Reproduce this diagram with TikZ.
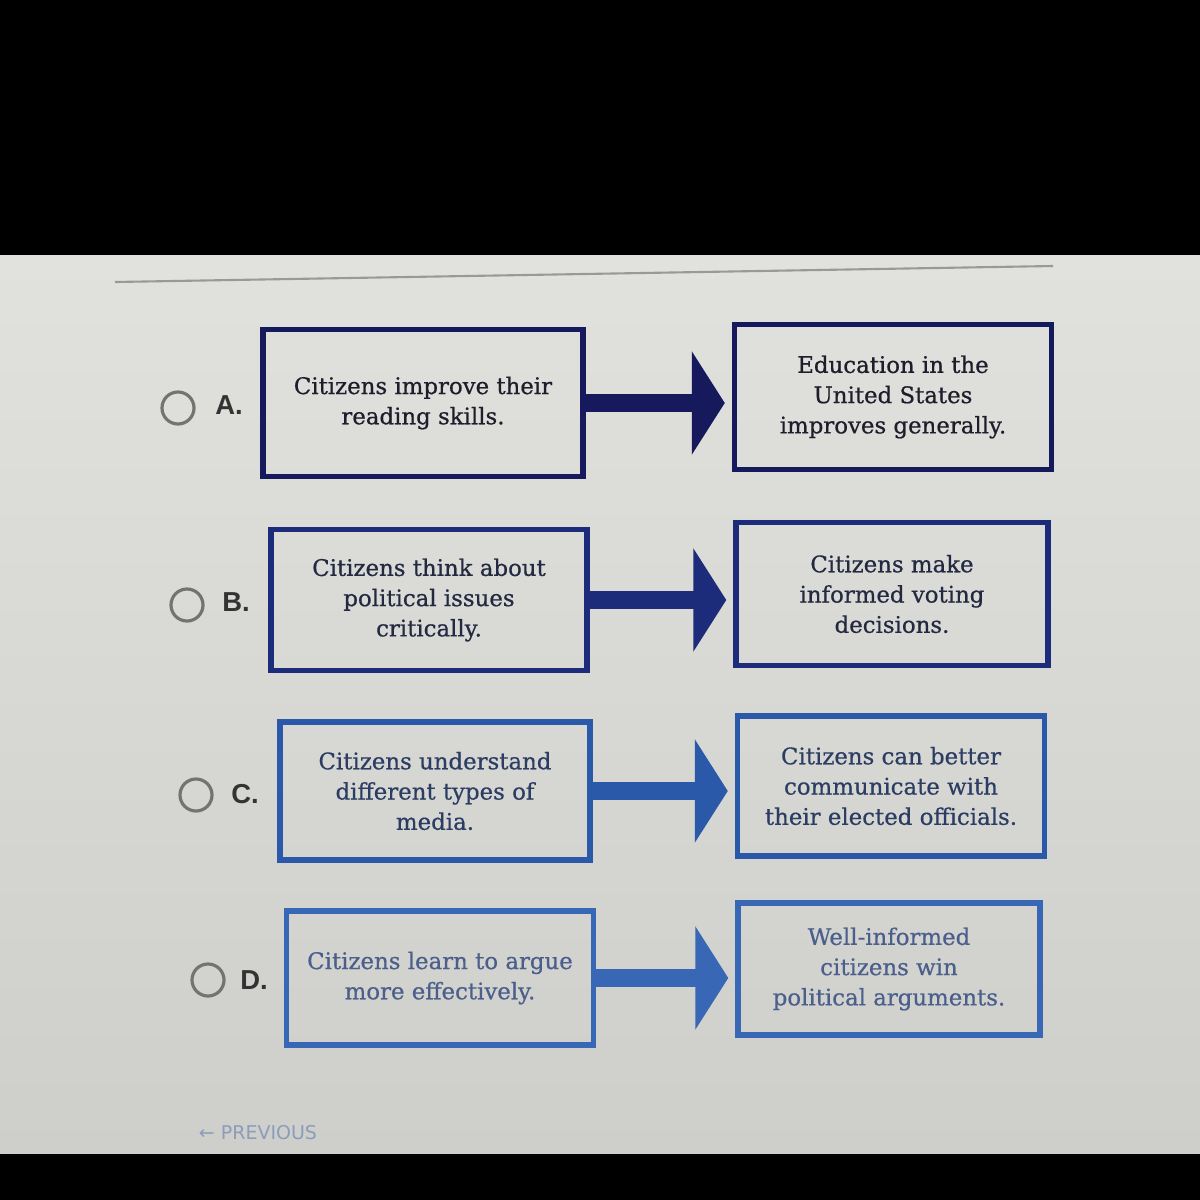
\documentclass[tikz,border=0pt]{standalone}
\usepackage{fontspec}
\setmainfont{DejaVu Serif}
\newfontfamily\boxfont{DejaVu Serif}[FakeBold=0.6]
\newfontfamily\optfont{Liberation Sans}
\newfontfamily\navfont{DejaVu Sans}
\usetikzlibrary{arrows.meta}
\definecolor{navyA}{HTML}{16195C}
\definecolor{navyB}{HTML}{1C2B7A}
\definecolor{blueC}{HTML}{2B59A9}
\definecolor{blueD}{HTML}{3767B5}
\definecolor{txtA}{HTML}{1D1D2B}
\definecolor{txtB}{HTML}{232940}
\definecolor{txtC}{HTML}{2C3D64}
\definecolor{txtD}{HTML}{4B5F8C}
\tikzset{
    box/.style 2 args={rectangle, draw, line width=1.5pt, minimum width=#1, minimum height=#2,
        align=center, inner sep=0pt, font=\boxfont\fontsize{6.5}{8.6}\selectfont},
    link/.style={line width=0.18cm, -{Triangle[length=0.33cm, width=1.02cm]}, shorten >=0.07cm},
    radio/.style={circle, draw=black!55, line width=0.9pt, minimum size=0.32cm, inner sep=0pt},
    letter/.style={font=\optfont\bfseries\fontsize{7.8}{8}\selectfont, text=black!80}
}

\begin{document}
\begin{tikzpicture}[x=0.01cm, y=-0.01cm]
        \useasboundingbox (0,0) rectangle (1200,1200);
        \fill[black] (0,0) rectangle (1200,1200);
        \shade[top color={rgb,255:red,225;green,225;blue,222}, bottom color={rgb,255:red,206;green,206;blue,202}] (0,255) rectangle (1200,1153);
        \draw[black!40, line width=0.6pt] (115,282) -- (1053,266);

        \node[radio] (ra) at (178,408) {};
        \node[letter] (la) at (229,405) {A.};
        \node[box={3.2cm}{1.47cm}, draw=navyA, text=txtA] (a1) at (423,403) {Citizens improve their\\reading skills.};
        \node[box={3.17cm}{1.45cm}, draw=navyA, text=txtA] (a2) at (893,397) {Education in the\\United States\\improves generally.};

        \node[radio] (rb) at (187,605) {};
        \node[letter] (lb) at (236,602) {B.};
        \node[box={3.16cm}{1.41cm}, draw=navyB, text=txtB] (b1) at (429,600) {Citizens think about\\political issues\\critically.};
        \node[box={3.12cm}{1.43cm}, draw=navyB, text=txtB] (b2) at (892,594) {Citizens make\\informed voting\\decisions.};

        \node[radio] (rc) at (196,795) {};
        \node[letter] (lc) at (245,794) {C.};
        \node[box={3.1cm}{1.38cm}, draw=blueC, text=txtC] (c1) at (435,791) {Citizens understand\\different types of\\media.};
        \node[box={3.07cm}{1.4cm}, draw=blueC, text=txtC] (c2) at (891,786) {Citizens can better\\communicate with\\their elected officials.};

        \node[radio] (rd) at (208,980) {};
        \node[letter] (ld) at (254,980) {D.};
        \node[box={3.07cm}{1.34cm}, draw=blueD, text=txtD] (d1) at (440,978) {Citizens learn to argue\\more effectively.};
        \node[box={3.02cm}{1.32cm}, draw=blueD, text=txtD] (d2) at (889,969) {Well-informed\\citizens win\\political arguments.};

        \draw[link, draw=navyA] (a1.east) -- (a1.east -| a2.west);
        \draw[link, draw=navyB] (b1.east) -- (b1.east -| b2.west);
        \draw[link, draw=blueC] (c1.east) -- (c1.east -| c2.west);
        \draw[link, draw=blueD] (d1.east) -- (d1.east -| d2.west);

        \node[font=\navfont\fontsize{5.4}{6}\selectfont, text={rgb,255:red,140;green,157;blue,188}] (prev) at (258,1133) {← PREVIOUS};
\end{tikzpicture}
\end{document}
